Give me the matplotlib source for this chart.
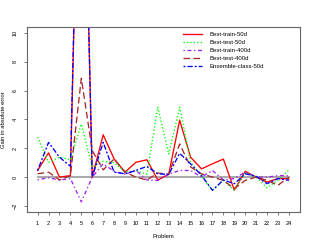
import matplotlib
matplotlib.use("Agg")
import matplotlib.pyplot as plt
import numpy as np

plt.rcParams["font.family"] = ["Liberation Sans", "DejaVu Sans"]

problems = list(range(1, 25))

best_train_50d = [0.46, 1.68, 0.0, 0.1, 32.0, 0.0, 2.94, 1.26, 0.34, 1.03, 1.2, -0.2,
                  0.2, 3.95, 1.38, 0.57, 0.92, 1.25, -0.9, 0.4, 0.0, -0.35, -0.1, -0.12]
best_test_50d = [2.78, 1.03, 1.38, 1.2, 3.68, 0.69, 1.1, 1.0, 0.35, 0.45, 0.2, 4.85,
                 1.6, 4.85, 1.03, 0.05, -0.92, -0.23, -0.92, 0.3, 0.0, -0.75, -0.2, 0.5]
best_train_400d = [-0.18, -0.05, -0.2, -0.1, -1.72, 0.0, 0.92, 0.4, 0.2, 0.46, -0.2, -0.23,
                   0.2, 0.46, 0.46, 0.0, 0.46, -0.2, -0.1, 0.35, 0.0, 0.0, 0.1, 0.1]
best_test_400d = [0.23, 0.34, -0.2, 0.1, 6.86, 1.84, 0.5, 1.26, 0.34, 0.0, -0.2, 0.28,
                  0.2, 2.3, 0.7, 0.23, 0.0, -0.23, -0.8, -0.23, 0.0, -0.23, -0.57, 0.0]
ensemble_class_50d = [0.46, 2.41, 1.38, 0.75, 32.0, 0.0, 2.41, 0.34, 0.23, 0.46, 0.74, 0.23,
                      0.18, 1.65, 0.92, 0.12, -0.92, -0.2, -0.46, 0.23, 0.05, -0.46, -0.1, -0.23]

series = [
    ("Best-train-50d", best_train_50d, "#ff0000", None),
    ("Best-test-50d", best_test_50d, "#00ff00", (1, 1.6)),
    ("Best-train-400d", best_train_400d, "#a020f0", (1, 2, 3, 2)),
    ("Best-test-400d", best_test_400d, "#a52a2a", (5, 2.5)),
    ("Ensemble-class-50d", ensemble_class_50d, "#0000ff", (1.5, 1.5, 4, 1.5)),
]

fig = plt.figure(figsize=(3.14, 2.46), dpi=100)
ax = fig.add_axes([0.085, 0.139, 0.87, 0.752])

# zero reference line
ax.plot([problems[0], problems[-1]], [0, 0], color="#999999", lw=1.2, zorder=1)

for name, vals, col, dash in series:
    line, = ax.plot(problems, vals, color=col, lw=0.95, label=name, zorder=2)
    if dash is not None:
        line.set_dashes(dash)

ax.set_xlim(0, 25)
ax.set_ylim(-2.41, 10.43)
ax.set_xticks(problems)
ax.set_yticks([-2, 0, 2, 4, 6, 8, 10])
ax.tick_params(labelsize=4, length=2.5, width=0.5, pad=4, color="#444444")
for lab in ax.get_yticklabels():
    lab.set_rotation(90)
    lab.set_va("center")
for sp in ax.spines.values():
    sp.set_color("#666666")
    sp.set_linewidth(0.8)

ax.set_xlabel("Problem", fontsize=4.2, labelpad=6)
ax.set_ylabel("Gain in absolute error", fontsize=4.2, labelpad=5)

ax.legend(loc="upper left", frameon=False, fontsize=4.3, handlelength=3.2,
          handletextpad=1.3, labelspacing=0.5, borderpad=0, borderaxespad=0,
          bbox_to_anchor=(0.572, 0.974))

fig.savefig("out.png", dpi=100)
